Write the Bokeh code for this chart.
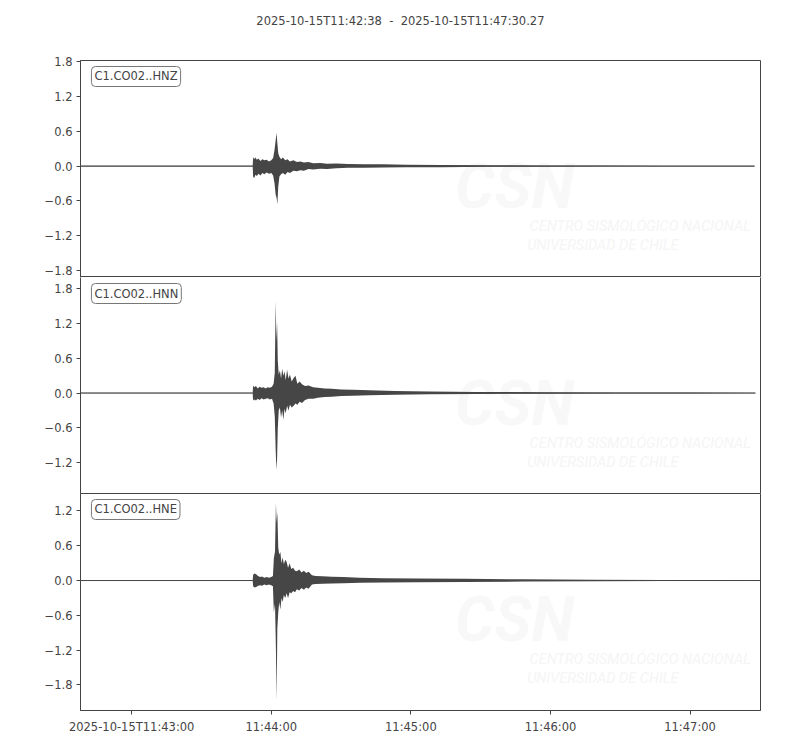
import numpy as np
from bokeh.plotting import figure
from bokeh.layouts import column
from bokeh.models import FixedTicker, Label, CustomJSTickFormatter, LinearAxis
from bokeh.embed import file_html
from bokeh.resources import INLINE

# ## Seismogram traces, station C1.CO02

title_text = "2025-10-15T11:42:38 \u00a0-\u00a0 2025-10-15T11:47:30.27"
channels = ["C1.CO02..HNZ", "C1.CO02..HNN", "C1.CO02..HNE"]

# time axis in seconds after 2025-10-15T11:42:38
x_start = 0.0
x_end = 292.27
x_ticks = [22, 82, 142, 202, 262]
x_tick_labels = ["2025-10-15T11:43:00", "11:44:00", "11:45:00", "11:46:00", "11:47:00"]
y_ticks = [-1.8, -1.2, -0.6, 0.0, 0.6, 1.2, 1.8]
y_limits = [(-1.92, 1.82), (-1.73, 1.99), (-2.24, 1.50)]

# envelope of each trace (max / min per time step)
t_hnz = [0, 74.0, 74.2, 74.6, 75.2, 75.8, 76.5, 77.3, 78.2, 79.0,
         80.0, 81.0, 82.0, 82.8, 83.4, 83.9, 84.3, 84.6, 85.0, 85.5,
         86.2, 87.0, 88.0, 89.0, 90.0, 91.5, 93.0, 94.5, 96.0, 98.0,
         100.0, 103.0, 106.0, 110.0, 115.0, 122.0, 130.0, 140.0, 155.0, 175.0,
         200.0, 225.0, 250.0, 289.7]
upper_hnz = [0.005, 0.005, 0.16, 0.12, 0.15, 0.11, 0.13, 0.09, 0.12, 0.10,
             0.11, 0.08, 0.10, 0.14, 0.28, 0.45, 0.57, 0.40, 0.22, 0.16,
             0.12, 0.15, 0.10, 0.12, 0.08, 0.10, 0.07, 0.08, 0.06, 0.07,
             0.05, 0.055, 0.04, 0.045, 0.035, 0.03, 0.03, 0.022, 0.02, 0.015,
             0.012, 0.01, 0.008, 0.005]
lower_hnz = [-0.005, -0.005, -0.18, -0.21, -0.15, -0.17, -0.13, -0.16, -0.12, -0.14,
             -0.11, -0.13, -0.12, -0.16, -0.30, -0.50, -0.55, -0.66, -0.35, -0.18,
             -0.14, -0.12, -0.15, -0.10, -0.12, -0.08, -0.09, -0.07, -0.08, -0.05,
             -0.06, -0.045, -0.05, -0.035, -0.03, -0.03, -0.025, -0.02, -0.018, -0.013,
             -0.01, -0.008, -0.006, -0.005]

t_hnn = [0, 74.0, 74.2, 74.7, 75.4, 76.2, 77.0, 77.8, 78.7, 79.6,
         80.5, 81.4, 82.3, 83.0, 83.5, 83.9, 84.2, 84.5, 84.8, 85.2,
         85.7, 86.2, 86.7, 87.2, 87.7, 88.2, 88.8, 89.4, 90.0, 90.8,
         91.6, 92.4, 93.2, 94.2, 95.2, 96.5, 98.0, 100.0, 102.0, 105.0,
         108.0, 112.0, 117.0, 124.0, 135.0, 150.0, 170.0, 200.0, 230.0, 260.0,
         290.1]
upper_hnn = [0.005, 0.005, 0.13, 0.10, 0.12, 0.08, 0.11, 0.09, 0.10, 0.08,
             0.10, 0.09, 0.11, 0.16, 0.35, 1.59, 0.90, 1.22, 0.55, 0.32,
             0.39, 0.25, 0.42, 0.30, 0.37, 0.22, 0.40, 0.25, 0.32, 0.20,
             0.26, 0.30, 0.16, 0.20, 0.15, 0.12, 0.13, 0.10, 0.09, 0.08,
             0.075, 0.06, 0.055, 0.05, 0.035, 0.025, 0.02, 0.015, 0.01, 0.008,
             0.005]
lower_hnn = [-0.005, -0.005, -0.13, -0.11, -0.13, -0.10, -0.12, -0.09, -0.11, -0.10,
             -0.09, -0.11, -0.10, -0.18, -0.40, -1.00, -1.32, -1.13, -0.60, -0.30,
             -0.25, -0.42, -0.30, -0.46, -0.27, -0.35, -0.22, -0.30, -0.20, -0.25,
             -0.22, -0.18, -0.20, -0.15, -0.17, -0.12, -0.10, -0.10, -0.08, -0.07,
             -0.065, -0.05, -0.045, -0.04, -0.03, -0.02, -0.015, -0.012, -0.008, -0.006,
             -0.005]

t_hne = [0, 74.0, 74.2, 74.8, 75.5, 76.3, 77.2, 78.0, 79.0, 80.0,
         81.0, 82.0, 82.7, 83.1, 83.6, 84.0, 84.3, 84.6, 85.0, 85.4,
         85.9, 86.4, 86.9, 87.4, 88.0, 88.6, 89.2, 89.9, 90.6, 91.4,
         92.2, 93.0, 94.0, 95.0, 96.0, 97.0, 98.0, 99.5, 101.0, 104.0,
         108.0, 113.0, 120.0, 130.0, 145.0, 165.0, 190.0, 220.0, 250.0, 292.27]
upper_hne = [0.005, 0.005, 0.10, 0.12, 0.11, 0.08, 0.06, 0.07, 0.05, 0.06,
             0.05, 0.06, 0.08, 0.38, 0.50, 1.34, 1.00, 1.18, 0.57, 0.45,
             0.49, 0.30, 0.40, 0.28, 0.36, 0.32, 0.22, 0.30, 0.20, 0.22,
             0.17, 0.16, 0.19, 0.14, 0.17, 0.13, 0.15, 0.09, 0.08, 0.075,
             0.065, 0.06, 0.05, 0.04, 0.035, 0.03, 0.022, 0.015, 0.01, 0.005]
lower_hne = [-0.005, -0.005, -0.10, -0.12, -0.11, -0.09, -0.08, -0.09, -0.07, -0.08,
             -0.07, -0.08, -0.10, -0.55, -0.40, -1.20, -2.07, -0.83, -0.55, -0.37,
             -0.50, -0.30, -0.37, -0.25, -0.30, -0.22, -0.30, -0.20, -0.22, -0.18,
             -0.20, -0.15, -0.17, -0.13, -0.16, -0.12, -0.14, -0.07, -0.06, -0.055,
             -0.05, -0.045, -0.04, -0.035, -0.03, -0.025, -0.018, -0.013, -0.009, -0.005]

traces = [(t_hnz, upper_hnz, lower_hnz), (t_hnn, upper_hnn, lower_hnn), (t_hne, upper_hne, lower_hne)]

ink = "#444444"
trace_color = "#464646"
font = "DejaVu Sans"
px_per_unit = 58.06  # vertical scale, used only to place labels
W, LEFT, RIGHT = 784, 80, 24

# title strip
head = figure(width=W, height=38, x_range=(x_start, x_end), y_range=(0, 38),
              output_backend="svg", toolbar_location=None,
              min_border_left=LEFT, min_border_right=RIGHT, min_border_top=0, min_border_bottom=0)
head.axis.visible = False
head.grid.visible = False
head.outline_line_color = None
head.add_layout(Label(x=137.5, y=18, text=title_text, text_font=font, text_font_size="11.5px",
                      text_color=ink, text_align="center", text_baseline="middle"))

figs = [head]
for i, (name, (t, up, lo), (y0, y1)) in enumerate(zip(channels, traces, y_limits)):
    last = i == len(channels) - 1
    frame_h = 216 if i == 1 else 217
    top = 22 if i == 0 else 0
    bottom = 30 if last else 0
    p = figure(width=W, height=top + frame_h + bottom, x_range=(x_start, x_end), y_range=(y0, y1),
               output_backend="svg", toolbar_location=None,
               min_border_left=LEFT, min_border_right=RIGHT, min_border_top=top, min_border_bottom=bottom)
    p.grid.visible = False

    # faint CSN watermark, kept underneath the trace
    p.add_layout(Label(x=161.0, y=y1 - 126 / px_per_unit, text="CSN", text_font="Roboto",
                       text_font_style="bold italic", text_font_size="62px", text_color="#f8f8f8",
                       text_baseline="alphabetic", level="underlay"))
    p.add_layout(Label(x=193.0, y=y1 - 166 / px_per_unit, text="CENTRO SISMOLÓGICO NACIONAL",
                       text_font="Roboto", text_font_style="italic", text_font_size="14.5px",
                       text_color="#f5f5f5", text_baseline="alphabetic", level="underlay"))
    p.add_layout(Label(x=192.0, y=y1 - 185 / px_per_unit, text="UNIVERSIDAD DE CHILE",
                       text_font="Roboto", text_font_style="italic", text_font_size="14.5px",
                       text_color="#f5f5f5", text_baseline="alphabetic", level="underlay"))

    p.line(t, np.zeros(len(t)), line_color=trace_color, line_width=1)
    p.varea(x=t, y1=lo, y2=up, fill_color=trace_color)

    p.add_layout(Label(x=4.7, y=y1 - 16 / px_per_unit, text=name, text_font=font,
                       text_font_size="11.5px", text_color=ink, text_baseline="middle",
                       background_fill_color="white", border_line_color="#777777",
                       border_line_width=1, border_radius=4, padding=3))

    p.yaxis.ticker = FixedTicker(ticks=y_ticks)
    p.yaxis.formatter = CustomJSTickFormatter(code="return tick.toFixed(1).replace('-', '\u2212')")
    p.yaxis.major_label_text_font = font
    p.yaxis.major_label_text_font_size = "11.5px"
    p.yaxis.major_label_text_color = ink
    p.yaxis.axis_line_color = ink
    p.yaxis.major_tick_line_color = ink
    p.yaxis.major_tick_in = 0
    p.yaxis.major_tick_out = 4
    p.yaxis.minor_tick_line_color = None
    p.yaxis.major_label_standoff = 4

    if i == 1:
        # middle panel: top/bottom edges come from the neighbours' outlines
        p.outline_line_color = None
        edge = LinearAxis(ticker=FixedTicker(ticks=[]), major_label_text_font_size="0px",
                          major_tick_out=0, major_tick_in=0, minor_tick_out=0, minor_tick_in=0,
                          major_label_standoff=0, axis_line_color=ink)
        p.add_layout(edge, "right")
    else:
        p.outline_line_color = ink
        p.outline_line_alpha = 1.0

    if last:
        p.xaxis.ticker = FixedTicker(ticks=x_ticks)
        p.xaxis.major_label_overrides = dict(zip(x_ticks, x_tick_labels))
        p.xaxis.major_label_text_font = font
        p.xaxis.major_label_text_font_size = "11.5px"
        p.xaxis.major_label_text_color = ink
        p.xaxis.axis_line_color = ink
        p.xaxis.major_tick_line_color = ink
        p.xaxis.major_tick_in = 0
        p.xaxis.major_tick_out = 4
        p.xaxis.minor_tick_line_color = None
        p.xaxis.major_label_standoff = 5
    else:
        p.xaxis.visible = False
    figs.append(p)

layout = column(*figs, spacing=0)
open("out.html", "w").write(file_html(layout, INLINE))
